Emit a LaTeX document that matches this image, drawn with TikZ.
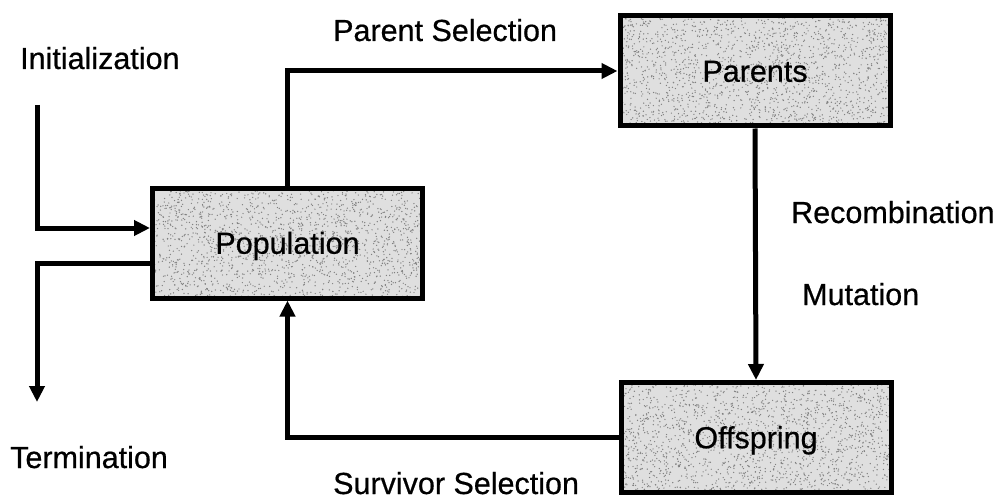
\documentclass[tikz,border=0pt]{standalone}
\usepackage{fontspec}
\setmainfont{Liberation Sans}
\newfontfamily\lblfont[FakeBold=0.6]{Liberation Sans}
\usetikzlibrary{arrows.meta,calc}
\begin{document}
\begin{tikzpicture}[x=1pt,y=-1pt,
  box/.style={draw=black, line width=5pt, fill=gray!25, minimum width=270pt, minimum height=110pt,
    inner sep=0pt, font=\lblfont\fontsize{30.5}{34}\selectfont, text height=21.5pt, text depth=0pt,
    path picture={\foreach \k in {1,...,2000}{\fill[black!50] ($(path picture bounding box.center)+(rand*140pt,rand*60pt)$) circle (0.7pt);}}},
  lbl/.style={anchor=base west, inner sep=0pt, font=\lblfont\fontsize{30.5}{34}\selectfont},
  arr/.style={line width=5pt, -{Triangle[length=16pt,width=15pt]}}]
\useasboundingbox (0,0) rectangle (998,500);
\pgfmathsetseed{7}
\node[box] (pop) at (287.5,243) {Population};
\node[box] (par) at (755,71) {Parents};
\node[box] (off) at (756,437.5) {Offspring};
\coordinate (i0) at (37,105);
\coordinate (t0) at (37,402);
\draw[arr] (i0) |- ([yshift=15pt]pop.west);
\draw[arr] ([yshift=-20pt]pop.west) -| (t0);
\draw[arr] (pop.north) |- (par.west);
\draw[arr] (par.south) -- (off.north);
\draw[arr] (off.west) -| (pop.south);
\node[lbl] (tinit) at (20,69) {Initialization};
\node[lbl] (tps) at (333,41) {Parent Selection};
\node[lbl] (trec) at (791,223) {Recombination};
\node[lbl] (tmut) at (802,305) {Mutation};
\node[lbl] (tterm) at (10,468) {Termination};
\node[lbl] (tsurv) at (333,494) {Survivor Selection};
\end{tikzpicture}
\end{document}
